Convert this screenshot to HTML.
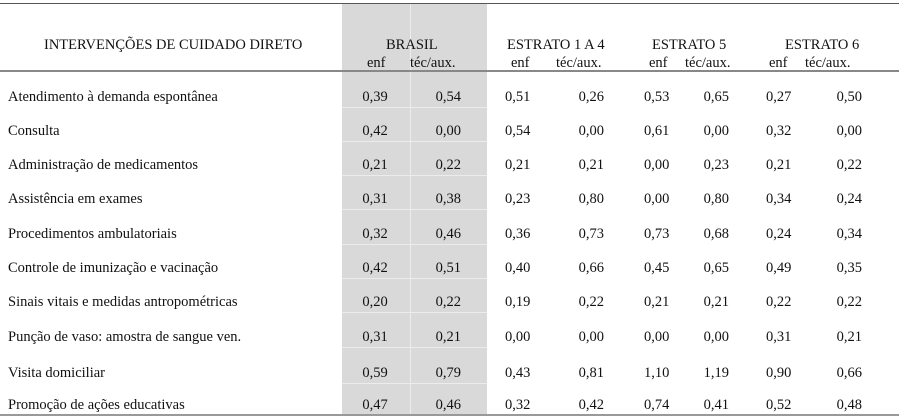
<!DOCTYPE html>
<html><head><meta charset="utf-8"><style>
body{margin:0;width:899px;height:419px;background:#fff;position:relative;overflow:hidden;font-family:"Liberation Serif",serif;font-size:14.5px;color:#111}
.a{position:absolute;white-space:nowrap;line-height:14px}
</style></head><body>
<div class="a" style="left:342px;top:4px;width:145px;height:411px;background:#d9d9d9"></div>
<div class="a" style="left:410px;top:4px;width:1px;height:411px;background:#ececec"></div>
<div class="a" style="left:0;top:3px;width:899px;height:1px;background:#555"></div>
<div class="a" style="left:0;top:70px;width:899px;height:2px;background:#888"></div>
<div class="a" style="left:0;top:414px;width:899px;height:2px;background:#999"></div>
<div class="a" style="left:44px;top:38px">INTERVENÇÕES DE CUIDADO DIRETO</div>
<div class="a" style="left:386px;top:38px">BRASIL</div>
<div class="a" style="left:507px;top:38px">ESTRATO 1 A 4</div>
<div class="a" style="left:652px;top:38px">ESTRATO 5</div>
<div class="a" style="left:785px;top:38px">ESTRATO 6</div>
<div id="t"></div>
<script>
const labels=["Atendimento à demanda espontânea","Consulta","Administração de medicamentos","Assistência em exames","Procedimentos ambulatoriais","Controle de imunização e vacinação","Sinais vitais e medidas antropométricas","Punção de vaso: amostra de sangue ven.","Visita domiciliar","Promoção de ações educativas"];
const brEnf=["0,39","0,42","0,21","0,31","0,32","0,42","0,20","0,31","0,59","0,47"];
const brTec=["0,54","0,00","0,22","0,38","0,46","0,51","0,22","0,21","0,79","0,46"];
const e1Enf=["0,51","0,54","0,21","0,23","0,36","0,40","0,19","0,00","0,43","0,32"];
const e1Tec=["0,26","0,00","0,21","0,80","0,73","0,66","0,22","0,00","0,81","0,42"];
const e5Enf=["0,53","0,61","0,00","0,00","0,73","0,45","0,21","0,00","1,10","0,74"];
const e5Tec=["0,65","0,00","0,23","0,80","0,68","0,65","0,21","0,00","1,19","0,41"];
const e6Enf=["0,27","0,32","0,21","0,34","0,24","0,49","0,22","0,31","0,90","0,52"];
const e6Tec=["0,50","0,00","0,22","0,24","0,34","0,35","0,22","0,21","0,66","0,48"];
const ys=[97,131,165,199,234,268,302,337,373,405];
const t=document.getElementById('t');
function add(txt,x,y,name,al){const d=document.createElement('div');d.className='a';d.textContent=txt;
d.style.top=(y-7)+'px';if(al==='r'){d.style.right=(899-x)+'px';}else if(al==='c'){d.style.left=(x-40)+'px';d.style.width='80px';d.style.textAlign='center';}else d.style.left=x+'px';


t.appendChild(d);}
const subs=[[363,'brasil'],[410,'brasil'],[507,'estrato-1-4'],[556,'estrato-1-4'],[645,'estrato-5'],[685,'estrato-5'],[765,'estrato-6'],[805,'estrato-6']];
subs.forEach((s,i)=>add(i%2?'téc/aux.':'enf',s[0]+(i%2?0:4),63,'subheader-'+(i%2?'tec':'enf')+'-'+s[1]));
labels.forEach((l,i)=>{const y=ys[i];
 if(i<9){const ln=document.createElement('div');ln.className='a';ln.style.cssText='left:342px;top:'+(y+10)+'px;width:145px;height:1px;background:#ececec';
 
 t.appendChild(ln);}
 add(l,8,y,'row-label');
 add(brEnf[i],375,y,'brasil-enf-value','c');
 add(brTec[i],461,y,'brasil-tec-value','r');
 add(e1Enf[i],505,y,'estrato-1-4-enf-value');
 add(e1Tec[i],604,y,'estrato-1-4-tec-value','r');
 add(e5Enf[i],644,y,'estrato-5-enf-value');
 add(e5Tec[i],729,y,'estrato-5-tec-value','r');
 add(e6Enf[i],766,y,'estrato-6-enf-value');
 add(e6Tec[i],862,y,'estrato-6-tec-value','r');
});
</script>
</body></html>
